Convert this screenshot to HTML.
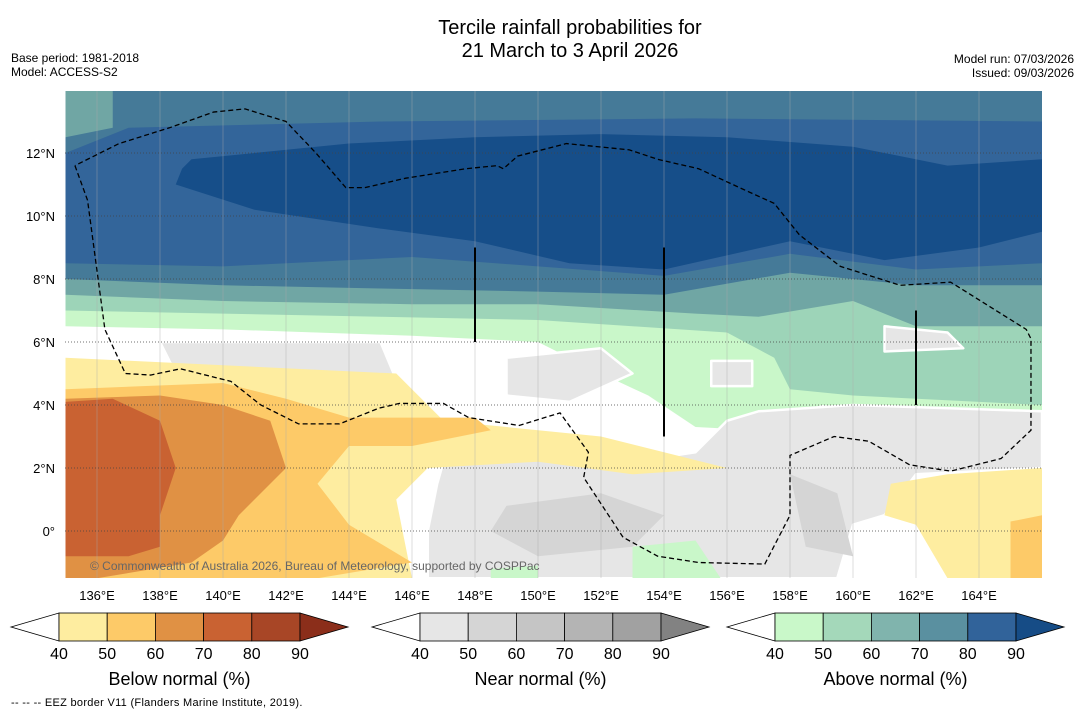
<!DOCTYPE html>
<html><head><meta charset="utf-8">
<style>
body{margin:0;background:#fff;font-family:"Liberation Sans",sans-serif;}
svg{display:block}
</style></head>
<body>
<svg id="s" width="1085" height="713" xmlns="http://www.w3.org/2000/svg" font-family="Liberation Sans, sans-serif">
<text x="570" y="34" font-size="20" text-anchor="middle">Tercile rainfall probabilities for</text>
<text x="570" y="57" font-size="20" text-anchor="middle">21 March to 3 April 2026</text>
<text x="11" y="62" font-size="12">Base period: 1981-2018</text>
<text x="11" y="76" font-size="12">Model: ACCESS-S2</text>
<text x="1074" y="63" font-size="12" text-anchor="end">Model run: 07/03/2026</text>
<text x="1074" y="77" font-size="12" text-anchor="end">Issued: 09/03/2026</text>
<defs><clipPath id="mc"><rect x="65" y="91" width="977" height="487"/></clipPath></defs>
<g id="map" clip-path="url(#mc)"><rect x="65" y="91" width="977" height="487" fill="#fff"/></g>
<g id="axes"></g>
<g id="cbars"></g>
<text x="11" y="706" font-size="11" letter-spacing="0.3">--  --  -- EEZ border V11 (Flanders Marine Institute, 2019).</text>
</svg>
<script>
const lonTicks=[136,138,140,142,144,146,148,150,152,154,156,158,160,162,164];
const latTicks=[0,2,4,6,8,10,12];
const cbLevels=[40,50,60,70,80,90];
const belowColors=["#feeda0","#fdca68","#e09144","#c96232","#a84626","#8b2e1a"];
const nearColors=["#e6e6e6","#d5d5d5","#c5c5c5","#b4b4b4","#a1a1a1","#828282"];
const aboveColors=["#c9f8c9","#a4d8ba","#80b4ad","#5a90a0","#31639a","#164c86"];
const regions=[
["#c9f7c9",[[135,14],[166,14],[166,3.8],[162,3.8],[159,4.0],[157,3.2],[155,3.3],[153.5,4.3],[152,5],[150,6.0],[146,6.2],[140,6.4],[135,6.5]]],
["#9dd4b8",[[135,14],[166,14],[166,4],[160,4.3],[158,4.5],[157.5,5.5],[156,6.3],[153,6.5],[150,6.7],[145,6.8],[140,6.9],[135,7.0]]],
["#70a6a4",[[135,14],[166,14],[166,6.5],[162,6.5],[160,7.3],[157,6.8],[155,6.9],[150,7.2],[146,7.2],[140,7.3],[135,7.5]]],
["#457a98",[[136.5,14],[166,14],[166,7.8],[162,7.8],[158,8.2],[154,7.5],[150,7.6],[145,7.7],[140,7.8],[135,8.0],[135,12.5],[136.5,12.8]]],
["#33659a",[[137,12.8],[145,13],[155,13.1],[166,13],[166,8.5],[162,8.3],[158,8.8],[154,8.1],[150,8.4],[146,8.7],[140,8.4],[135,8.5],[135,12]]],
["#164e89",[[139,11.8],[144,12.3],[148,12.5],[152,12.6],[156,12.5],[160,12.2],[163,11.6],[166,11.8],[166,9.5],[164,9],[161,8.6],[158,9.2],[154,8.3],[151,8.5],[148,9.2],[145,9.6],[141,10.2],[138.5,11],[138.7,11.5]]],
["#e6e6e6",[[138,6],[145,6],[145.5,4.8],[142,4.7],[138.5,5.0]]],
["#e6e6e6",[[149,5.5],[152,5.8],[153,5],[151,4.1],[149,4.3]]],
["#e6e6e6",[[147,2.2],[150,2.6],[153,2.2],[155,2.5],[156,3.5],[157,3.8],[160,4.0],[166,3.8],[166,2.0],[162,1.8],[161,0.5],[160,0.2],[159.5,-1.5],[146.5,-1.5],[146.5,0],[146.8,1.5]]],
["#e6e6e6",[[161,6.5],[163,6.3],[163.5,5.8],[161,5.7]]],
["#e6e6e6",[[155.5,5.4],[156.8,5.4],[156.8,4.6],[155.5,4.6]]],
["#d5d5d5",[[149,0.8],[152,1.2],[154,0.5],[153,-0.5],[150,-0.8],[148.5,0]]],
["#d5d5d5",[[158,1.8],[159.5,1.2],[160,-0.8],[158.5,-0.5]]],
["#feeda0",[[135,5.5],[145.5,5.0],[147,3.5],[152,3.0],[156,2.0],[153,1.8],[150,2.2],[146.5,2.0],[145.5,1.0],[146,-1.5],[135,-1.5]]],
["#feeda0",[[161.2,1.5],[163,1.8],[166,2],[166,-1.5],[163,-1.5],[162,0.2],[161,0.5]]],
["#fdca68",[[135,4.5],[140,4.7],[142,4.2],[144,3.6],[148,3.6],[148.5,3.2],[146,2.7],[144,2.7],[143,1.5],[144,0.2],[146,-1.0],[143,-1.5],[135,-1.5]]],
["#fdca68",[[165,0.3],[166,0.5],[166,-1.5],[165,-1.5]]],
["#e09144",[[135,4.2],[138,4.3],[140,4.0],[141.5,3.5],[142,2.0],[140.5,0.5],[140,-0.3],[139,-1.0],[136,-1.5],[135,-1.5]]],
["#c96232",[[135,4.1],[136.5,4.2],[138,3.5],[138.5,2.0],[138,0.5],[138,-0.5],[137,-0.8],[136,-0.8],[135,-0.8]]],
["#c9f7c9",[[153,-0.5],[155,-0.3],[155.8,-1.5],[153,-1.5]]],
["#c9f7c9",[[148.5,-1.2],[150,-1.1],[150,-1.5],[148.5,-1.5]]]
];
const eez=[[135.3,11.6],[135.7,10.5],[136.25,6.4],[136.9,5],[137.7,4.95],[138.65,5.15],[140.25,4.75],[141.2,4.0],[142.4,3.4],[143.7,3.4],[144.95,3.9],[145.6,4.05],[147.0,4.05],[147.8,3.6],[149.4,3.35],[150.7,3.75],[151.6,2.5],[151.45,1.7],[152.7,-0.2],[153.8,-0.8],[155.1,-1.0],[157.2,-1.05],[158.0,0.5],[158.0,2.4],[159.4,3.0],[160.5,2.85],[161.8,2.1],[163.1,1.9],[164.7,2.3],[165.65,3.2],[165.65,6.1],[165.5,6.4],[163.1,7.9],[161.5,7.8],[159.6,8.4],[158.3,9.4],[157.5,10.4],[156.4,10.9],[155.1,11.5],[153.8,11.8],[152.9,12.1],[150.9,12.3],[149.35,11.9],[148.9,11.5],[148.7,11.6],[147.7,11.5],[145.8,11.2],[144.5,10.9],[143.9,10.9],[142.95,12.0],[142.0,13.0],[140.7,13.4],[139.7,13.3],[138.3,12.8],[136.7,12.3],[135.3,11.6]];
const X=l=>97+(l-136)*31.5, Y=a=>531-a*31.5;
const NS="http://www.w3.org/2000/svg";
function mk(t,p,parent){const e=document.createElementNS(NS,t);for(const k in p)e.setAttribute(k,p[k]);parent.appendChild(e);return e;}
const map=document.getElementById('map');
regions.forEach(r=>{
 const e=mk('polygon',{points:r[1].map(p=>X(p[0])+','+Y(p[1])).join(' '),fill:r[0],stroke:r[0]==='#e6e6e6'?'#fff':'none','stroke-width':2.5,'stroke-linejoin':'round'},map);
 
 
});
lonTicks.forEach(l=>{const e=mk('line',{x1:X(l),x2:X(l),y1:91,y2:578,stroke:'#aaa','stroke-width':0.8,opacity:0.5},map);
 });
latTicks.forEach(a=>{const e=mk('line',{x1:65,x2:1042,y1:Y(a),y2:Y(a),stroke:'#444','stroke-width':0.8,'stroke-dasharray':'1,2'},map);
 });
const ez=mk('polyline',{points:eez.map(p=>X(p[0])+','+Y(p[1])).join(' '),fill:'none',stroke:'#000','stroke-width':1.3,'stroke-dasharray':'5,3'},map);

[[148,6,9],[154,3,9],[162,4,7]].forEach(v=>{const e=mk('line',{x1:X(v[0]),x2:X(v[0]),y1:Y(v[2]),y2:Y(v[1]),stroke:'#000','stroke-width':2},map);
 });
const cp=mk('text',{x:90,y:570,'font-size':12,fill:'#666'},map);cp.textContent='© Commonwealth of Australia 2026, Bureau of Meteorology, supported by COSPPac';

const ax=document.getElementById('axes');
lonTicks.forEach(l=>{const t=mk('text',{x:X(l),y:600,'font-size':13,'text-anchor':'middle'},ax);t.textContent=l+'°E';
 });
latTicks.forEach(a=>{const t=mk('text',{x:55,y:Y(a)+5,'font-size':13,'text-anchor':'end'},ax);t.textContent=a===0?'0°':a+'°N';
 });
const cb=document.getElementById('cbars');
[[59,belowColors,'Below normal (%)','below'],[420,nearColors,'Near normal (%)','near'],[775,aboveColors,'Above normal (%)','above']].forEach(c=>{
 const x0=c[0],w=48.2,y0=613,h=28;
 const g=mk('g',{},cb);
 mk('polygon',{points:`${x0-48},${y0+h/2} ${x0},${y0} ${x0},${y0+h}`,fill:'#fff',stroke:'#000','stroke-width':0.8},g);
 for(let i=0;i<cbLevels.length-1;i++){mk('rect',{x:x0+i*w,y:y0,width:w,height:h,fill:c[1][i],stroke:'#000','stroke-width':0.8},g);}
 const xe=x0+(cbLevels.length-1)*w;
 mk('polygon',{points:`${xe},${y0} ${xe+48},${y0+h/2} ${xe},${y0+h}`,fill:c[1][5],stroke:'#000','stroke-width':0.8},g);
 cbLevels.forEach((v,i)=>{const t=mk('text',{x:x0+i*w,y:659,'font-size':16,'text-anchor':'middle'},g);t.textContent=v;});
 const tt=mk('text',{x:x0+2.5*w,y:685,'font-size':18,'text-anchor':'middle'},g);tt.textContent=c[2];
});
</script>
</body></html>
